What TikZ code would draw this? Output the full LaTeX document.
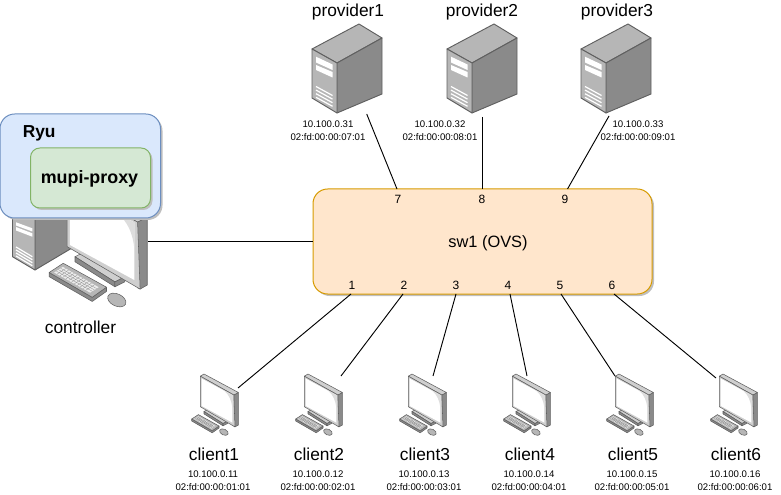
\documentclass[tikz,border=0pt]{standalone}
\usepackage{fontspec}
\setmainfont{Liberation Sans}
\definecolor{dk}{HTML}{5F5F5F}
\definecolor{mid}{HTML}{B6B6B6}
\definecolor{side}{HTML}{8A8A8A}
\definecolor{lt}{HTML}{CFCFCF}
\definecolor{ryuf}{HTML}{DAE8FC}
\definecolor{ryud}{HTML}{6C8EBF}
\definecolor{prf}{HTML}{D5E8D4}
\definecolor{prd}{HTML}{82B366}
\definecolor{swf}{HTML}{FFE6CC}
\definecolor{swd}{HTML}{D79B00}
\tikzset{
  x=0.75pt,y=-0.75pt,
  conn/.style={draw=black,line width=0.7pt},
  big/.style={font=\fontsize{13}{15}\selectfont,inner sep=0pt},
  sw label/.style={font=\fontsize{12.3}{15}\selectfont,inner sep=0pt},
  small/.style={font=\fontsize{7.2}{9.7}\selectfont,inner sep=0pt,align=center},
  port/.style={font=\fontsize{9}{11}\selectfont,inner sep=0pt},
  boldl/.style={font=\fontsize{13}{15}\selectfont\bfseries,inner sep=0pt},
  boldm/.style={font=\fontsize{13.4}{15}\selectfont\bfseries,inner sep=0pt},
  gfx/.style={draw=dk,line width=0.7pt,line join=round},
  thin gfx/.style={draw=dk,line width=0.4pt,line join=round},
  server/.pic={
    \path[gfx,fill=mid] (0,25)--(47,0)--(70,14)--(25,39)--cycle;
    \path[gfx,fill=side] (25,39)--(70,14)--(70,70)--(25,89)--cycle;
    \path[gfx,fill=mid] (0,25)--(25,39)--(25,89)--(0,74)--cycle;
    \fill[white] (4,32.7)--(20.5,40.5)--(20.5,46)--(4,38.5)--cycle;
    \fill[white] (4,41)--(20.5,48)--(20.5,53.5)--(4,46)--cycle;
    \foreach \d in {0,3.6,7.2,10.8}{\draw[white,line width=0.9pt] (4,62.5+\d)--(20.5,71.5+\d);}
  },
  desktop/.pic={
    % stand
    \path[thin gfx,fill=lt] (4,37.5)--(8.8,35)--(27.8,47)--(23,49.5)--cycle;
    \path[thin gfx,fill=side] (4,37.5)--(23,49.5)--(23,51.8)--(4,39.9)--cycle;
    \path[thin gfx,fill=side] (23,49.5)--(27.8,47)--(27.8,49.4)--(23,51.8)--cycle;
    % monitor
    \path[thin gfx,fill=side] (33.8,21)--(38.4,18.5)--(38.4,51)--(35,52.9)--(33.8,52.3)--cycle;
    \path[thin gfx,fill=lt] (0.3,2.2)--(4,0)--(38.4,18.5)--(33.8,21)--cycle;
    \path[thin gfx,fill=lt] (0.3,2.2)--(33.8,21)--(35,52.9)--(0.3,32.7)--cycle;
    \fill[white] (1.6,4.5)--(32.3,21.2)--(32.3,48.6)--(1.6,31.9)--cycle;
    \fill[lt!70!white] (24.5,17)--(32.3,21.2)--(32.3,34) .. controls (31.5,26) and (29,21) .. (24.5,17)--cycle;
    % keyboard
    \path[thin gfx,fill=side] (-8.3,45)--(12.2,56.8)--(19,52)--(19,54)--(12.2,58.8)--(-8.3,47)--cycle;
    \path[thin gfx,fill=mid] (-8.3,45)--(-1.6,40.6)--(19,52)--(12.2,56.8)--cycle;
    \path[fill=white!92!black] (-5.9,45)--(-1.8,42.3)--(15.3,52)--(11.2,54.6)--cycle;
    \foreach \t in {0.08,0.16,...,0.96}{
      \draw[side,line width=0.2pt] (-5.9+17.1*\t,45+9.6*\t)--(-1.8+17.1*\t,42.3+9.7*\t);}
    \foreach \t in {0.25,0.5,0.75}{
      \draw[side,line width=0.2pt] (-5.9+4.1*\t,45-2.7*\t)--(11.2+4.1*\t,54.6-2.6*\t);}
    % mouse
    \path[thin gfx,fill=mid,rotate around={-25:(23.9,58.1)}] (23.9,58.1) ellipse [x radius=4.6,y radius=2.9];
  }
}
\begin{document}
\begin{tikzpicture}
\useasboundingbox (0,0) rectangle (781,495);
% controller
\path[gfx,fill=side] (35,200)--(72,200)--(72,248)--(35,270)--cycle;
\path[gfx,fill=mid] (12.5,200)--(35,200)--(35,270)--(12.5,256.7)--cycle;
\fill[white] (16,222.3)--(32.3,228.3)--(32.3,231.5)--(16,225.5)--cycle;
\fill[white] (16,227)--(32.3,233.3)--(32.3,236.7)--(16,230.5)--cycle;
\foreach \d in {0,3,6,9}{\draw[white,line width=0.9pt] (16,247+\d)--(32.3,256.7+\d);}
\pic[scale=2.1] at (66.6,178) {desktop};
\node[big] (controller) at (80.5,327) {controller};
% Ryu
\fill[black!25,rounded corners=11pt] (2,116) rectangle (162.5,220);
\draw[ryud,fill=ryuf,rounded corners=11pt,line width=0.75pt] (0,114) rectangle (160.5,218);
\node[boldl,anchor=west] (ryu) at (22.5,133) {Ryu};
\fill[black!25,rounded corners=7pt] (32.5,150) rectangle (152.5,210);
\draw[prd,fill=prf,rounded corners=7pt,line width=0.75pt] (30.5,148) rectangle (150.5,208);
\node[boldm] (mupi) at (89.5,179) {mupi-proxy};
% switch
\fill[black!25,rounded corners=11pt] (315,191) rectangle (654,296);
\draw[swd,fill=swf,rounded corners=11pt,line width=0.75pt] (313,189) rectangle (652,294);
\node[sw label] (sw) at (488,243) {sw1 (OVS)};
\coordinate (swL) at (313,241);
\coordinate (ctlR) at (148,241);
\draw[conn] (ctlR)--(swL);
% servers
\foreach \n/\x/\tx/\ix/\ip/\mac in {1/312/348/328/31/07,2/447/482/440/32/08,3/581/617/638/33/09}{
  \pic at (\x,24) {server};
  \node[big] (provider\n) at (\tx,12) {provider\n};
  \node[small] (pinfo\n) at (\ix,130.5) {10.100.0.\ip\\02:fd:00:00:\mac:01};
}
% clients
\foreach \n/\x/\tx in {1/200/214,2/304/319,3/408/425,4/512/530,5/615/633,6/719/736}{
  \pic at (\x,374) {desktop};
  \node[big] (client\n) at (\tx,454.5) {client\n};
}
\foreach \n/\tx in {1/213,2/318,3/424,4/529,5/632,6/735}{
  \node[small] (cinfo\n) at (\tx,480.5) {10.100.0.1\n\\02:fd:00:00:0\n:01};
}
% ports
\foreach \n/\x in {1/352,2/404,3/456,4/508,5/560,6/612}{
  \node[port] (port\n) at (\x,285) {\n};
}
\foreach \n/\x in {7/398,8/482,9/565}{
  \node[port] (port\n) at (\x,199) {\n};
}
% connectors
\coordinate (sa) at (366.7,114); \coordinate (sb) at (397,189);
\coordinate (ta) at (482,117); \coordinate (tb) at (482,189);
\coordinate (ua) at (609,116); \coordinate (ub) at (567.5,189);
\draw[conn] (sa)--(sb); \draw[conn] (ta)--(tb); \draw[conn] (ua)--(ub);
\coordinate (c1) at (238,388); \coordinate (d1) at (351,294);
\coordinate (c2) at (341,376); \coordinate (d2) at (403,294);
\coordinate (c3) at (433,376); \coordinate (d3) at (456,294);
\coordinate (c4) at (527,376); \coordinate (d4) at (510,294);
\coordinate (c5) at (615,376); \coordinate (d5) at (561,294);
\coordinate (c6) at (716,378); \coordinate (d6) at (614,294);
\foreach \n in {1,...,6}{\draw[conn] (c\n)--(d\n);}
\end{tikzpicture}
\end{document}
